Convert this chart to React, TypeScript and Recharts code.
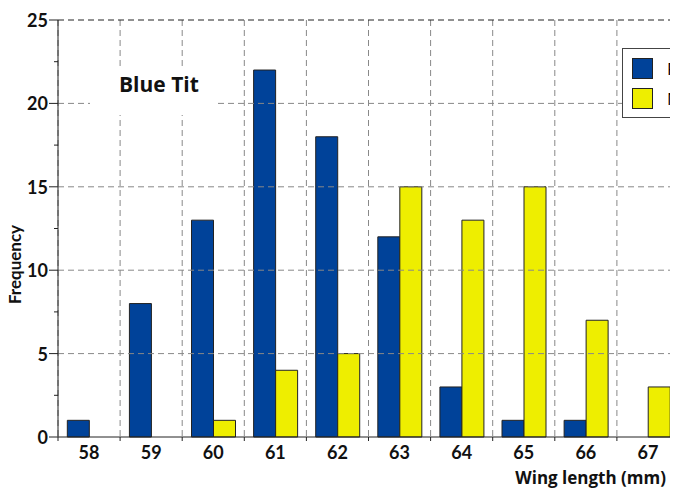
import React from "react";
import {
  BarChart,
  Bar,
  XAxis,
  YAxis,
  CartesianGrid,
  Legend,
  ReferenceLine,
} from "recharts";

const wingLengths = [58, 59, 60, 61, 62, 63, 64, 65, 66, 67];
const female = [1, 8, 13, 22, 18, 12, 3, 1, 1, 0];
const male = [0, 0, 1, 4, 5, 15, 13, 15, 7, 3];
const yTicks = [0, 2.5, 5, 7.5, 10, 12.5, 15, 17.5, 20, 22.5, 25];
const yGridLines = [5, 10, 15, 20];
const xBoundaries = [57.5, 58.5, 59.5, 60.5, 61.5, 62.5, 63.5, 64.5, 65.5, 66.5, 67.5];

const BLUE = "#004299";
const YELLOW = "#eeee00";
const FONT = "Lato, 'Open Sans', sans-serif";
const WIDE = "'Open Sans', sans-serif";

const data = wingLengths.map((w, i) => ({
  wing: w,
  Female: female[i],
  Male: male[i],
}));

const YTick = (props: any) => {
  const { x, y, payload } = props;
  const major = payload.value % 5 === 0;
  return (
    <g>
      <line x1={x - (major ? 9 : 4)} x2={x} y1={y} y2={y} stroke="#222" />
      {major && (
        <text
          x={x - 10}
          y={y}
          dy={7}
          textAnchor="end"
          fontFamily={FONT}
          fontWeight={700}
          fontSize={18}
          fill="#111"
        >
          {payload.value}
        </text>
      )}
    </g>
  );
};

const XTick = (props: any) => {
  const { x, y, payload } = props;
  return (
    <text
      x={x}
      y={y}
      dy={9}
      textAnchor="middle"
      fontFamily={FONT}
      fontWeight={700}
      fontSize={18}
      fill="#111"
    >
      {payload.value}
    </text>
  );
};

const FreqLabel = (props: any) => {
  const { viewBox } = props;
  const x = viewBox.x + 3;
  const y = viewBox.y + viewBox.height / 2 + 36;
  return (
    <text
      x={x}
      y={y}
      transform={`rotate(-90, ${x}, ${y})`}
      textAnchor="middle"
      fontFamily={FONT}
      fontWeight={700}
      fontSize={17}
      fill="#111"
    >
      Frequency
    </text>
  );
};

const WingLabel = (props: any) => {
  const { viewBox } = props;
  return (
    <text
      x={viewBox.x + viewBox.width - 13}
      y={viewBox.y + viewBox.height - 8}
      textAnchor="end"
      fontFamily={WIDE}
      fontWeight={700}
      fontSize={17}
      fill="#111"
    >
      Wing length (mm)
    </text>
  );
};

const LegendBox = (props: any) => {
  const { payload } = props;
  return (
    <div
      style={{
        border: "1px solid #444",
        padding: "9px 10px 9px 9px",
        background: "#fff",
        fontFamily: WIDE,
        fontSize: 17,
      }}
    >
      {payload.map((p: any, i: number) => (
        <div
          key={p.value}
          style={{
            display: "flex",
            alignItems: "center",
            marginTop: i ? 10 : 0,
            height: 20,
          }}
        >
          <span
            style={{
              width: 19,
              height: 19,
              background: p.color,
              border: "1px solid #222",
              display: "inline-block",
              marginRight: 14,
            }}
          />
          <span>{p.value}</span>
        </div>
      ))}
    </div>
  );
};

export default function App() {
  return (
    <div
      style={{
        position: "relative",
        width: 670,
        height: 484,
        overflow: "hidden",
        background: "#fff",
      }}
    >
      <BarChart
        width={780}
        height={484}
        data={data}
        margin={{ top: 12, right: 109, left: 10, bottom: 0 }}
        barCategoryGap="15%"
        barGap={0}
      >
        <CartesianGrid
          xAxisId="edge"
          yAxisId="val"
          horizontal={false}
          stroke="#888"
          strokeDasharray="6 4"
        />
        <XAxis
          xAxisId="edge"
          type="number"
          dataKey="wing"
          domain={[57.5, 67.5]}
          ticks={xBoundaries}
          tickFormatter={() => ""}
          tickSize={4}
          stroke="#222"
          height={5}
          allowDataOverflow
        />
        <XAxis
          xAxisId="label"
          dataKey="wing"
          axisLine={false}
          tickLine={false}
          tick={<XTick />}
          height={50}
          label={<WingLabel />}
        />
        <YAxis
          yAxisId="val"
          domain={[0, 25]}
          ticks={yTicks}
          interval={0}
          width={40}
          tickSize={0}
          tickMargin={0}
          tickLine={false}
          tick={<YTick />}
          stroke="#222"
          label={<FreqLabel />}
        />
        {yGridLines.map((v) => (
          <ReferenceLine
            key={v}
            y={v}
            xAxisId="label"
            yAxisId="val"
            stroke="#888"
            strokeDasharray="6 4"
          />
        ))}
        <ReferenceLine
          y={25}
          xAxisId="label"
          yAxisId="val"
          stroke="#222"
          strokeDasharray="6 4"
        />
        <Legend
          layout="horizontal"
          verticalAlign="middle"
          align="center"
          wrapperStyle={{ left: 614, top: 40, width: "auto" }}
          content={<LegendBox />}
        />
        <Bar
          xAxisId="label"
          yAxisId="val"
          dataKey="Female"
          fill={BLUE}
          stroke="#222"
          isAnimationActive={false}
        />
        <Bar
          xAxisId="label"
          yAxisId="val"
          dataKey="Male"
          fill={YELLOW}
          stroke="#222"
          isAnimationActive={false}
        />
      </BarChart>
      <div
        style={{
          position: "absolute",
          left: 82,
          top: 60,
          width: 125,
          height: 47,
          boxSizing: "border-box",
          paddingLeft: 29,
          paddingTop: 6,
          background: "#fff",
          fontFamily: WIDE,
          fontWeight: 700,
          fontSize: 21,
          lineHeight: 1,
          color: "#111",
        }}
      >
        Blue Tit
      </div>
    </div>
  );
}
